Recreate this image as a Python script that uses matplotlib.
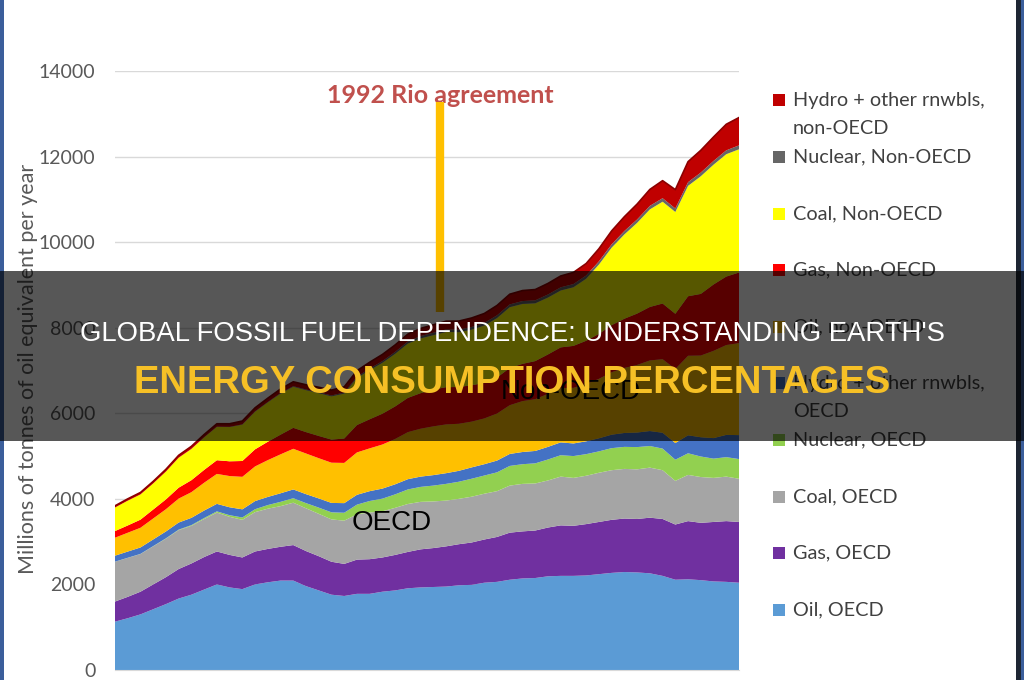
import numpy as np
import matplotlib.pyplot as plt
from matplotlib.patches import Rectangle

years = list(range(1965, 2015))

# Millions of tonnes of oil equivalent (1965-2014)
oil_oecd = [1130, 1210, 1300, 1420, 1540, 1670, 1760, 1880, 2000, 1930,
            1890, 2000, 2050, 2090, 2090, 1960, 1860, 1760, 1730, 1780,
            1780, 1830, 1860, 1910, 1930, 1940, 1950, 1980, 1990, 2040,
            2060, 2110, 2140, 2150, 2190, 2200, 2200, 2210, 2240, 2270,
            2290, 2280, 2260, 2200, 2110, 2120, 2100, 2070, 2060, 2040]
gas_oecd = [470, 500, 530, 580, 630, 690, 730, 760, 770, 760,
            740, 770, 780, 790, 830, 820, 800, 770, 750, 800,
            810, 800, 830, 850, 890, 910, 940, 960, 990, 1010,
            1050, 1100, 1100, 1110, 1140, 1180, 1170, 1200, 1220, 1240,
            1250, 1250, 1300, 1330, 1290, 1360, 1340, 1390, 1420, 1420]
coal_oecd = [930, 910, 880, 890, 900, 910, 880, 890, 910, 890,
             880, 920, 940, 950, 990, 1000, 990, 990, 1010, 1060,
             1090, 1080, 1100, 1120, 1110, 1090, 1070, 1060, 1070, 1070,
             1070, 1100, 1110, 1100, 1100, 1140, 1120, 1130, 1150, 1160,
             1160, 1160, 1170, 1140, 1020, 1080, 1070, 1030, 1040, 1010]
nuclear_oecd = [2, 3, 4, 6, 8, 11, 16, 22, 28, 38,
                55, 68, 85, 100, 105, 120, 145, 165, 185, 225,
                270, 295, 315, 340, 350, 370, 390, 400, 420, 425,
                440, 460, 460, 470, 490, 500, 510, 505, 500, 515,
                515, 520, 505, 505, 495, 505, 480, 450, 455, 460]
hydro_oecd = [140, 145, 150, 155, 160, 165, 170, 175, 175, 185,
              190, 190, 190, 200, 205, 210, 215, 220, 225, 230,
              230, 235, 235, 240, 240, 245, 250, 255, 265, 265,
              275, 280, 285, 290, 295, 300, 295, 300, 305, 315,
              325, 340, 350, 370, 390, 420, 450, 480, 520, 560]
oil_non = [420, 440, 460, 490, 520, 560, 600, 650, 700, 730,
           760, 810, 860, 910, 950, 950, 940, 940, 940, 990,
           1000, 1030, 1060, 1100, 1120, 1140, 1140, 1100, 1070, 1070,
           1100, 1140, 1190, 1210, 1240, 1270, 1300, 1340, 1390, 1460,
           1520, 1580, 1650, 1720, 1730, 1860, 1910, 2040, 2100, 2150]
gas_non = [155, 170, 190, 210, 230, 255, 280, 300, 320, 345,
           370, 400, 430, 460, 490, 500, 520, 540, 570, 640,
           680, 720, 760, 800, 830, 860, 870, 860, 850, 830,
           840, 870, 870, 890, 920, 950, 980, 1010, 1050, 1100,
           1150, 1200, 1250, 1300, 1290, 1390, 1440, 1550, 1600, 1650]
coal_non = [550, 580, 590, 610, 650, 700, 730, 760, 780, 800,
            850, 880, 920, 960, 960, 980, 1000, 1010, 1050, 1100,
            1150, 1190, 1230, 1270, 1280, 1270, 1290, 1280, 1300, 1340,
            1390, 1420, 1400, 1350, 1330, 1330, 1370, 1450, 1620, 1810,
            1970, 2120, 2280, 2380, 2380, 2580, 2750, 2800, 2860, 2880]
nuclear_non = [0, 0, 0, 0, 1, 1, 2, 3, 4, 5,
               6, 8, 10, 12, 14, 16, 20, 22, 25, 30,
               35, 40, 45, 50, 55, 58, 60, 60, 62, 62,
               65, 65, 68, 70, 72, 74, 75, 76, 76, 78,
               80, 80, 82, 82, 82, 86, 86, 88, 90, 92]
hydro_non = [40, 42, 45, 48, 52, 56, 60, 64, 68, 72,
             78, 82, 88, 95, 102, 110, 118, 125, 132, 140,
             148, 155, 162, 170, 178, 185, 192, 200, 210, 220,
             230, 238, 245, 252, 258, 265, 272, 280, 295, 315,
             335, 360, 385, 410, 440, 480, 520, 560, 610, 650]

labels = ["Oil, OECD", "Gas, OECD", "Coal, OECD", "Nuclear, OECD",
          "Hydro + other rnwbls,\nOECD", "Oil, non-OECD", "Gas, Non-OECD",
          "Coal, Non-OECD", "Nuclear, Non-OECD",
          "Hydro + other rnwbls,\nnon-OECD"]
colors = ["#5B9BD5", "#7030A0", "#A5A5A5", "#92D050", "#4472C4",
          "#FFC000", "#FF0000", "#FFFF00", "#666666", "#C00000"]
series = [oil_oecd, gas_oecd, coal_oecd, nuclear_oecd, hydro_oecd,
          oil_non, gas_non, coal_non, nuclear_non, hydro_non]

rio_year = 1990.56
rio_span = (8370, 13280)

W, H = 1024, 680
fig = plt.figure(figsize=(W / 100, H / 100), dpi=100)
ax = fig.add_axes([115 / W, 10 / H, 624 / W, 599 / H])

ax.stackplot(years, *series, colors=colors, linewidth=0, zorder=2)
total = np.sum(series, axis=0)
ax.plot(years, total, color="#8B0000", lw=1.2, zorder=3)

ax.set_xlim(years[0], years[-1])
ax.set_ylim(0, 14000)
ax.set_yticks(range(0, 14001, 2000))
ax.grid(axis="y", color="#D9D9D9", lw=1)
ax.set_axisbelow(True)
for s in ["top", "right", "left"]:
    ax.spines[s].set_visible(False)
ax.spines["bottom"].set_color("#D9D9D9")
ax.tick_params(axis="y", length=0, pad=14, labelsize=14, labelcolor="#595959")
ax.tick_params(axis="x", length=0, labelbottom=False)
for lab in ax.get_yticklabels():
    lab.set_family("Lato")

# Rio annotation
ax.plot([rio_year, rio_year], rio_span, color="#FFC000", lw=6, zorder=4,
        solid_capstyle="butt")
ax.text(rio_year, 13420, "1992 Rio agreement", ha="center", va="center",
        fontsize=18, fontweight="bold", color="#C0504D", family="Lato")

ax.text(1986.7, 3435, "OECD", ha="center", va="center", fontsize=20,
        family="Liberation Sans", color="black", zorder=5)
ax.text(2000.8, 6497, "Non-OECD", ha="center", va="center", fontsize=20,
        family="Liberation Sans", color="black", zorder=5)

fig.text(28 / W, 1 - 369 / H, "Millions of tonnes of oil equivalent per year",
         rotation=90, ha="center", va="center", fontsize=15.5, family="Lato",
         color="#595959")

# legend, top entry first
for i, (lab, col) in enumerate(zip(labels[::-1], colors[::-1])):
    yp = 100.4 + i * 56.6
    fig.patches.append(Rectangle((773 / W, 1 - (yp + 6) / H), 12 / W, 12 / H,
                                 transform=fig.transFigure, facecolor=col,
                                 edgecolor="none", zorder=2))
    for j, line in enumerate(lab.split("\n")):
        fig.text(793 / W, 1 - (yp + j * 28) / H, line, ha="left", va="center",
                 fontsize=14.3, family="Lato", color="#404040", zorder=2)

# frame edges
fig.patches.append(Rectangle((0, 0), 4 / W, 1, transform=fig.transFigure,
                             facecolor="#3B5E9B", edgecolor="none", zorder=2))
fig.patches.append(Rectangle((1016 / W, 0), 5 / W, 1, transform=fig.transFigure,
                             facecolor="#1E2633", edgecolor="none", zorder=2))
fig.patches.append(Rectangle((1021 / W, 0), 3 / W, 1, transform=fig.transFigure,
                             facecolor="#3B5E9B", edgecolor="none", zorder=2))

# title banner
fig.patches.append(Rectangle((0, 1 - 441 / H), 1, 170 / H, transform=fig.transFigure,
                             facecolor="black", alpha=0.66, edgecolor="none", zorder=5))
fig.text(0.5, 1 - 334 / H, "GLOBAL FOSSIL FUEL DEPENDENCE: UNDERSTANDING EARTH'S",
         ha="center", va="center", fontsize=19.8, family="Liberation Sans",
         color="white", zorder=6)
fig.text(0.5, 1 - 383 / H, "ENERGY CONSUMPTION PERCENTAGES",
         ha="center", va="center", fontsize=27.5, fontweight="bold",
         family="Liberation Sans", color="#F6C026", zorder=6)

fig.savefig("out.png", dpi=100)
